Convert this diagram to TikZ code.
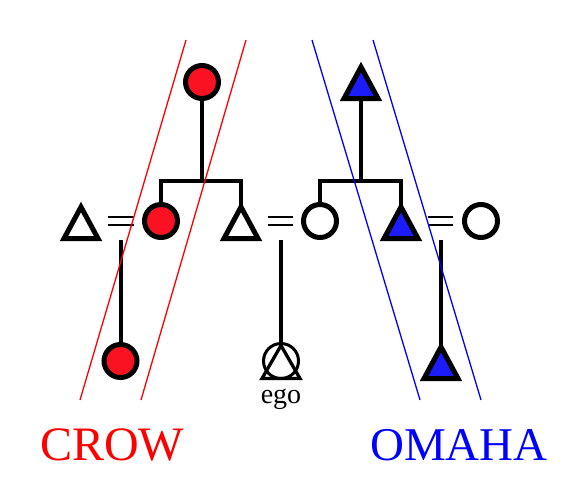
\documentclass[tikz,border=0pt]{standalone}
\usepackage{fontspec}
\setmainfont{Liberation Serif}
\definecolor{crowred}{RGB}{250,18,35}
\definecolor{omahablue}{RGB}{28,28,250}
\newcommand\kintri[4]{%
  \coordinate (#1) at (#2,#3);
  \coordinate (#1-n) at (#2,#3-14);
  \coordinate (#1-s) at (#2,#3+17);
  \draw[symline,fill=#4] (#2,#3-15) -- (#2+17,#3+16.5) -- (#2-17,#3+16.5) -- cycle;}
\begin{document}
\begin{tikzpicture}[x=1pt,y=-1pt,
  symline/.style={line width=5pt,line join=miter,draw=black},
  fem/.style={circle,draw=black,line width=5pt,minimum size=33pt,inner sep=0pt},
  kin/.style={line width=4pt,line cap=butt,line join=miter},
  eqline/.style={line width=2.6pt},
  crowline/.style={draw=red,line width=1.3pt},
  omahaline/.style={draw=blue,line width=1.3pt}]
\useasboundingbox (0,0) rectangle (572,501);

% symbols
\node[fem,fill=crowred] (gm) at (202,82) {};
\kintri{gf}{361}{82}{omahablue}
\node[fem,fill=crowred] (m1) at (161,221) {};
\kintri{h1}{81}{222}{white}
\kintri{f1}{241}{222}{white}
\node[fem,fill=white] (mo) at (320,221) {};
\kintri{u1}{401}{222}{omahablue}
\node[fem,fill=white] (w1) at (481,221) {};
\node[fem,fill=crowred] (c1) at (120.5,361) {};
\kintri{c2}{441}{362}{omahablue}
\node[circle,draw=black,line width=3pt,minimum size=35pt,inner sep=0pt] (ego) at (281,361) {};
\draw[line width=3.3pt,line join=miter] (281,345.5) -- (300,378.5) -- (262,378.5) -- cycle;
\node[anchor=base,font=\fontsize{28}{28}\selectfont] (egolbl) at (281,403) {ego};

% marriages
\draw[eqline] (108,217) -- (134,217) (108,225) -- (134,225);
\draw[eqline] (268,217) -- (293,217) (268,225) -- (293,225);
\draw[eqline] (428,217) -- (453,217) (428,225) -- (453,225);

% descent
\coordinate (b1) at (202,181);
\coordinate (b2) at (361,181);
\coordinate (d1) at (120.5,240);
\coordinate (d2) at (281,240);
\coordinate (d3) at (441,240);
\draw[kin] (gm.south) -- (b1);
\draw[kin] (m1.north) |- (b1) -| (f1-n);
\draw[kin] (gf-s) -- (b2);
\draw[kin] (mo.north) |- (b2) -| (u1-n);
\draw[kin] (d1) -- (c1.north);
\draw[kin] (d2) -- (ego.north);
\draw[kin] (d3) -- (c2-n);

% crow / omaha lines
\draw[crowline] (186,40) -- (80,400);
\draw[crowline] (246,40) -- (141,400);
\draw[omahaline] (312,40) -- (420,400);
\draw[omahaline] (373,40) -- (481,400);

% labels
\node[anchor=base,text=red,font=\fontsize{48}{48}\selectfont] (crow) at (112,460) {CROW};
\node[anchor=base,text=blue,font=\fontsize{47}{47}\selectfont] (omaha) at (459,460) {OMAHA};
\end{tikzpicture}
\end{document}
